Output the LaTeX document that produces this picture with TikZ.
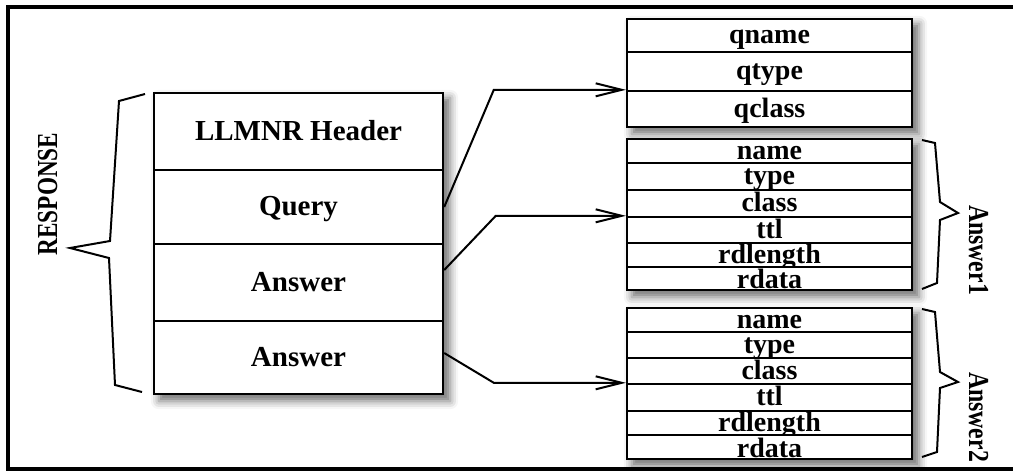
\documentclass[tikz,border=0pt]{standalone}
\usepackage{fontspec}
\setmainfont{Liberation Serif}
\usetikzlibrary{arrows.meta,shadows.blur,backgrounds,fit}

\begin{document}
\begin{tikzpicture}[x=0.5pt,y=-0.5pt,
  every node/.style={font=\fontsize{14.5}{16}\selectfont\bfseries},
  cell/.style={draw, line width=1.2pt, fill=white, inner sep=0pt,
    text height=10pt, text depth=1.5pt, minimum height=#1},
  bigcell/.style={cell=#1, minimum width=144.5pt},
  field/.style={cell=#1, minimum width=142.5pt,
    font=\fontsize{14}{15}\selectfont\bfseries, text height=9.6pt, text depth=1.4pt},
  % the last row sits a little lower so it clears the descender above it
  lowered/.style={text height=10.6pt, text depth=0.4pt},
  boxshadow/.style={inner sep=0pt, fill=white,
    blur shadow={shadow xshift=3pt, shadow yshift=-3pt,
      shadow blur radius=4pt, shadow opacity=55}},
  conn/.style={line width=1pt, -{Straight Barb[length=13pt,width=6.5pt,line width=1pt]}},
  brace/.style={line width=1pt, line join=miter},
  frame/.style={line width=1.6pt}
]
\useasboundingbox (0,0) rectangle (1013,471);

% outer frame (its right side runs past the page edge)
\draw[frame] (1040,7) -- (8,7) -- (8,469) -- (1040,469);

% response layout
\node[bigcell=38.5pt] (hdr)  at (298.5,131.5) {LLMNR Header};
\node[bigcell=37pt]   (qry)  at (298.5,207)   {Query};
\node[bigcell=38.5pt] (ans1) at (298.5,282.5) {Answer};
\node[bigcell=36.5pt] (ans2) at (298.5,357.5) {Answer};

% query section fields
\node[field=16.5pt] (qname)  at (769.5,35.5)  {qname};
\node[field=19.5pt] (qtype)  at (769.5,71.5)  {qtype};
\node[field=18pt]   (qclass) at (769.5,109)   {qclass};

% first answer record
\node[field=12pt]   (aname)  at (769.5,151)   {name};
\node[field=13.5pt] (atype)  at (769.5,176.5) {type};
\node[field=13.5pt] (aclass) at (769.5,203.5) {class};
\node[field=13pt]   (attl)   at (769.5,230)   {ttl};
\node[field=12pt]   (alen)   at (769.5,255)   {rdlength};
\node[field=11.5pt, lowered] (adata) at (769.5,278.5) {rdata};

% second answer record
\node[field=12pt]   (bname)  at (769.5,320)   {name};
\node[field=13pt]   (btype)  at (769.5,345)   {type};
\node[field=13pt]   (bclass) at (769.5,371)   {class};
\node[field=13.5pt] (bttl)   at (769.5,397.5) {ttl};
\node[field=12pt]   (blen)   at (769.5,423)   {rdlength};
\node[field=12pt, lowered] (bdata) at (769.5,447) {rdata};

% soft shadows behind each stacked box
\begin{scope}[on background layer]
  \node[boxshadow, fit=(hdr)(ans2)]     (shresp) {};
  \node[boxshadow, fit=(qname)(qclass)] (shq)    {};
  \node[boxshadow, fit=(aname)(adata)]  (sha)    {};
  \node[boxshadow, fit=(bname)(bdata)]  (shb)    {};
\end{scope}

% connectors from the response sections to their fields
\draw[conn] (qry.east) -- ([xshift=-66pt]qclass.north west) -- (qclass.north west);
\draw[conn] ([yshift=6.25pt]ans1.east) -- ([xshift=-65pt]attl.north west) -- (attl.north west);
\draw[conn] ([yshift=2.25pt]ans2.east) -- ([xshift=-66pt]bttl.north west) -- (bttl.north west);

% braces
\draw[brace] (145,94) -- (119,101) -- (110,241) -- (70,248) -- (109,258) -- (115,385) -- (142,392);
\draw[brace] (922,140) -- (935,143) -- (940,202) -- (958,213) -- (940,220) -- (937,283) -- (922,289);
\draw[brace] (922,309) -- (935,312) -- (940,372) -- (958,382) -- (940,388) -- (937,452) -- (922,457);

% brace labels
\node[rotate=90, anchor=base]  (resp) at (57,194)  {\scalebox{0.8}[1]{RESPONSE}};
\node[rotate=-90, anchor=base] (lab1) at (969,250) {\scalebox{0.82}[1]{Answer1}};
\node[rotate=-90, anchor=base] (lab2) at (969,417) {\scalebox{0.82}[1]{Answer2}};
\end{tikzpicture}
\end{document}
